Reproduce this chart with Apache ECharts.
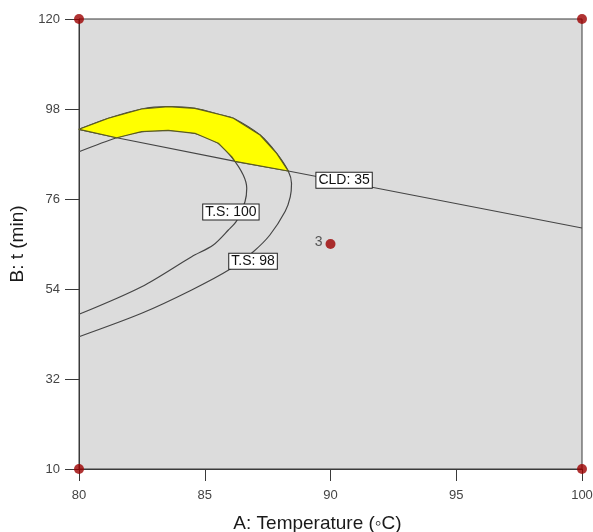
<!DOCTYPE html>
<html>
<head>
<meta charset="utf-8">
<script src="https://cdn.jsdelivr.net/npm/echarts@6/dist/echarts.min.js"></script>
<style>html,body{margin:0;padding:0;background:#fff;}#c{width:593px;height:532px;}</style>
</head>
<body>
<div id="c"></div>
<script>
// Axis ticks
const xTicks = [80, 85, 90, 95, 100];
const yTicks = [10, 32, 54, 76, 98, 120];

// Contour T.S: 98 (outer)
const ts98 = [[80.0,93.04],[81.17,95.73],[82.49,98.0],[83.55,98.56],[84.61,98.17],[85.67,96.53],[86.14,95.73],[87.2,91.64],[87.86,87.17],[88.32,82.84],[88.45,79.8],[88.4,76.5],[88.2,73.0],[87.59,67.2],[86.93,63.12],[86.0,58.81],[84.48,53.76],[82.49,48.06],[80.0,42.34]];
// Contour T.S: 100 (inner)
const ts100 = [[80.0,87.56],[81.5,90.98],[82.49,92.45],[83.55,92.79],[84.61,92.06],[85.54,89.62],[86.1,86.0],[86.53,81.87],[86.67,78.62],[86.6,75.34],[86.27,70.7],[85.94,68.42],[85.34,64.76],[84.48,61.9],[82.49,54.56],[80.0,47.82]];
// Contour CLD: 35
const cld35 = [[80.0,93.04],[81.5,90.98],[86.27,85.12],[88.32,82.84],[100,68.91]];
// Desirable (yellow) region
const region = [[80.0,93.04],[81.17,95.73],[82.49,98.0],[83.55,98.56],[84.61,98.17],[85.67,96.53],[86.14,95.73],[87.2,91.64],[87.86,87.17],[88.32,82.84],[86.2,85.2],[86.07,86.34],[85.54,89.62],[84.61,92.06],[83.55,92.79],[82.49,92.45],[81.5,90.98]];
// Contour labels
const contourLabels = [["T.S: 100",86.04,72.8],["T.S: 98",86.92,60.8],["CLD: 35",90.54,80.6]];
// Design points
const designX = [80, 80, 100, 100, 90];
const designY = [10, 120, 10, 120, 65];
const designLabel = ["", "", "", "", "3"];

const chart = echarts.init(document.getElementById('c'));
const lineStyle = {color: '#454545', width: 1.2};
const font = '"Liberation Sans", Arial, sans-serif';

chart.setOption({
  animation: false,
  grid: {left: 79, right: 11, top: 19, bottom: 63, containLabel: false, outerBoundsMode: 'none',
         show: true, backgroundColor: '#dcdcdc', borderColor: '#3a3a3a', borderWidth: 1},
  xAxis: {
    type: 'value', min: xTicks[0], max: xTicks[xTicks.length-1], interval: 5,
    name: 'A: Temperature (\u25E6C)', nameLocation: 'middle', nameGap: 45,
    nameTextStyle: {fontSize: 19, color: '#1a1a1a', fontFamily: font, padding: [0, 26, 0, 0]},
    axisLine: {lineStyle: {color: '#3a3a3a'}},
    axisTick: {length: 12, lineStyle: {color: '#3a3a3a'}},
    axisLabel: {fontSize: 13, color: '#444', margin: 20, fontFamily: font},
    splitLine: {show: false}
  },
  yAxis: {
    type: 'value', min: yTicks[0], max: yTicks[yTicks.length-1], interval: 22,
    name: 'B: t (min)', nameLocation: 'middle', nameGap: 49, nameRotate: 90,
    nameTextStyle: {fontSize: 19, color: '#1a1a1a', fontFamily: font},
    axisLine: {lineStyle: {color: '#3a3a3a'}},
    axisTick: {length: 14, lineStyle: {color: '#3a3a3a'}},
    axisLabel: {fontSize: 13, color: '#444', margin: 19, fontFamily: font},
    splitLine: {show: false}
  },
  series: [
    {type: 'line', data: ts98, showSymbol: false, symbol: 'none', smooth: 0.3, lineStyle: lineStyle, z: 2, silent: true},
    {type: 'line', data: ts100, showSymbol: false, symbol: 'none', smooth: 0.3, lineStyle: lineStyle, z: 2, silent: true},
    {type: 'line', data: cld35, showSymbol: false, symbol: 'none', lineStyle: lineStyle, z: 2, silent: true},
    {
      type: 'custom', z: 3, silent: true,
      data: [region[0]],
      renderItem: function (params, api) {
        const pts = region.map(p => api.coord(p));
        return {type: 'polygon', shape: {points: pts}, style: {fill: '#ffff00', stroke: '#5c5c22', lineWidth: 1.2, lineJoin: 'round'}};
      }
    },
    {
      type: 'custom', z: 5, silent: true,
      data: contourLabels.map(d => [d[1], d[2], d[0]]),
      encode: {x: 0, y: 1},
      renderItem: function (params, api) {
        const pt = api.coord([api.value(0), api.value(1)]);
        return {type: 'text', x: pt[0], y: pt[1], style: {
          text: contourLabels[params.dataIndex][0], fill: '#111', font: '14px ' + font,
          align: 'center', verticalAlign: 'middle', backgroundColor: '#fff',
          borderColor: '#222', borderWidth: 1, padding: [1, 2, 0, 2]
        }};
      }
    },
    {
      type: 'scatter', z: 6, clip: false, silent: true,
      data: designX.map((x, i) => ({value: [x, designY[i]], label: {show: designLabel[i] !== '', formatter: designLabel[i]}})),
      symbolSize: 10,
      itemStyle: {color: '#9c0000'},
      label: {position: 'left', distance: 3, color: '#333', fontSize: 14, fontFamily: font, offset: [0, -2]}
    }
  ]
});
</script>
</body>
</html>
